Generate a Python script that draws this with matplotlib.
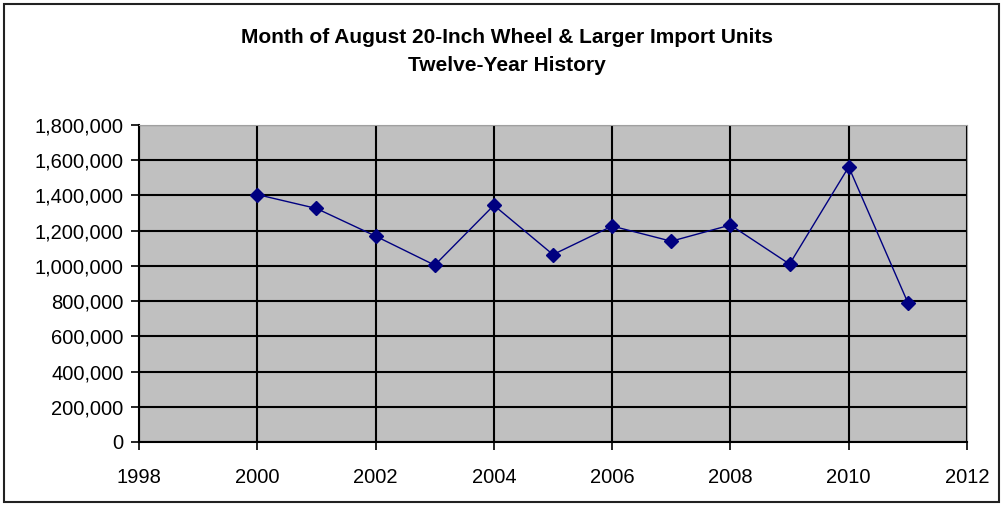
import matplotlib.pyplot as plt
from matplotlib.patches import Rectangle
from matplotlib.ticker import FuncFormatter, MultipleLocator

plt.rcParams['font.family'] = ['Liberation Sans', 'DejaVu Sans']

years = [2000, 2001, 2002, 2003, 2004, 2005, 2006, 2007, 2008, 2009, 2010, 2011]
units = [1405000, 1326000, 1169000, 1004000, 1344000, 1064000,
         1226000, 1140000, 1232000, 1010000, 1562000, 791000]

title = "Month of August 20-Inch Wheel & Larger Import Units\nTwelve-Year History"

fig = plt.figure(figsize=(10.03, 5.05), dpi=100)
ax = fig.add_axes([0.1386, 0.1248, 0.8255, 0.6277])
ax.set_facecolor('#c0c0c0')

ax.plot(years, units, color='#000080', linewidth=1, marker='D', markersize=7,
        zorder=3)

ax.set_xlim(1998, 2012)
ax.set_ylim(0, 1800000)
ax.xaxis.set_major_locator(MultipleLocator(2))
ax.yaxis.set_major_locator(MultipleLocator(200000))
ax.yaxis.set_major_formatter(FuncFormatter(lambda v, p: f'{int(v):,}'))
ax.grid(True, color='black', linewidth=1.5)
ax.set_axisbelow(True)

ax.tick_params(direction='out', length=6, width=1.2, labelsize=14.5,
               color='black')
ax.tick_params(axis='x', pad=13)
ax.tick_params(axis='y', pad=5)
for s in ['top', 'right']:
    ax.spines[s].set_color('#a0a0a0')
for s in ['left', 'bottom']:
    ax.spines[s].set_color('black')
    ax.spines[s].set_linewidth(1.5)

fig.text(0.505, 0.945, title, ha='center', va='top', fontsize=15,
         fontweight='bold', linespacing=1.6)

fig.patches.append(Rectangle((0.004, 0.006), 0.992, 0.986,
                             transform=fig.transFigure, fill=False,
                             edgecolor='#222222', linewidth=1.5))

fig.savefig('out.png', dpi=100)
